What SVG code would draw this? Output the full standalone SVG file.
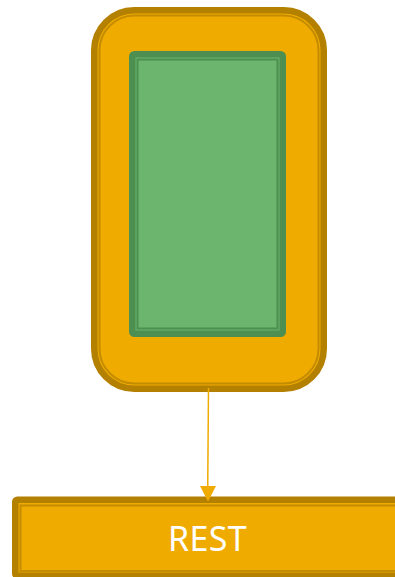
<svg xmlns="http://www.w3.org/2000/svg" width="395" height="577" viewBox="0 0 395 577">
<style>
.o{fill:#f0ab00;stroke:#b38000;stroke-width:6.5}
.ol{fill:none;stroke:#c48c00;stroke-width:2}
.g{fill:#6cb56e;stroke:#4d8f50;stroke-width:6.500}
.gl{fill:none;stroke:#4d8f50;stroke-width:2}
.t{font-family:"Noto Sans",sans-serif;font-weight:400;font-size:34px;letter-spacing:0.3px;fill:#fff;text-anchor:middle}
.c{stroke:#f0ab00;stroke-width:1.5;fill:none}
</style>
<g id="node-outer"><rect class="o" x="94.250" y="10.250" width="229.500" height="378.500" rx="40"/><rect class="ol" x="99.500" y="15.500" width="219" height="368" rx="35"/></g>
<g id="node-inner"><rect class="g" x="132.250" y="54.250" width="150.500" height="279.500" rx="2"/><rect class="gl" x="137.500" y="59.500" width="140" height="269"/></g>
<g id="node-rest"><rect class="o" x="15.250" y="499.750" width="400" height="76" rx="2"/><rect class="ol" x="20.500" y="505.500" width="390" height="65.500"/><text class="t" x="207.500" y="551">REST</text></g>
<g id="connectors"><path class="c" d="M208.500 388L207.700 490"/><path d="M200 486H216L208 501.500Z" fill="#f0ab00"/></g>
</svg>
